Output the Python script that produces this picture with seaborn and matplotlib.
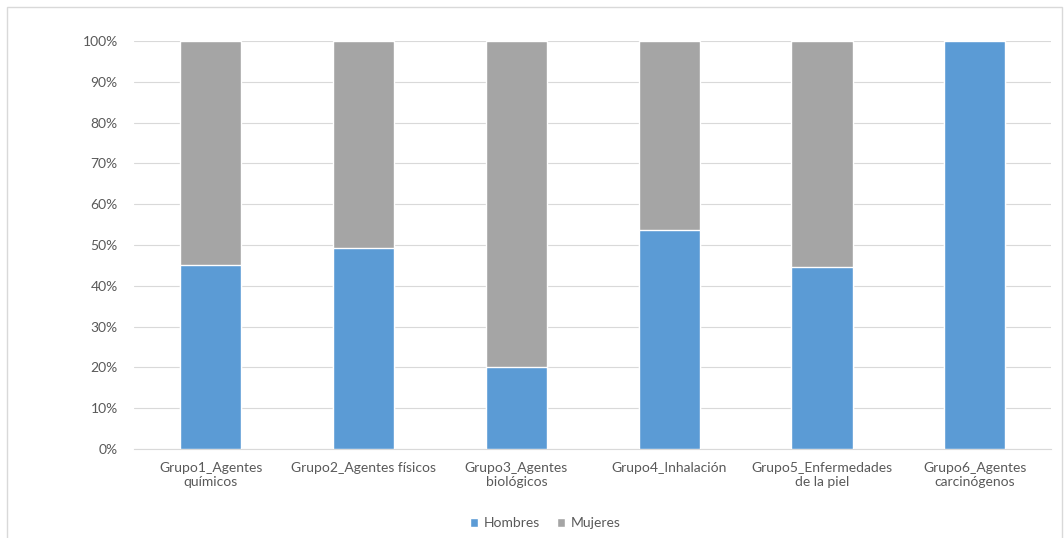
import matplotlib
matplotlib.use("Agg")
import matplotlib.pyplot as plt
import matplotlib.ticker as mticker
from matplotlib.patches import Rectangle
import pandas as pd
import seaborn as sns

#%% Data

grupos = ['Grupo1_Agentes\nquímicos', 'Grupo2_Agentes físicos', 'Grupo3_Agentes\nbiológicos',
          'Grupo4_Inhalación', 'Grupo5_Enfermedades\nde la piel', 'Grupo6_Agentes\ncarcinógenos']
hombres = [45.1, 49.3, 20.2, 53.7, 44.7, 100.0]
mujeres = [54.9, 50.7, 79.8, 46.3, 55.3, 0.0]

df = pd.DataFrame({'grupo': grupos, 'Hombres': hombres, 'Mujeres': mujeres})
df['total'] = df['Hombres'] + df['Mujeres']

#%% Plot

sns.set_style("white")
plt.rcParams['font.family'] = ['Lato', 'DejaVu Sans']
txt = '#595959'

fig = plt.figure(figsize=(10.64, 5.38), dpi=100)
ax = fig.add_axes([0.1264, 0.1654, 0.8616, 0.7584])

# stacked: total bar in grey, Hombres drawn over it
sns.barplot(data=df, x='grupo', y='total', color='#A5A5A5', width=0.4,
            saturation=1, ax=ax, label='Mujeres', zorder=2)
sns.barplot(data=df, x='grupo', y='Hombres', color='#5B9BD5', width=0.4,
            saturation=1, ax=ax, label='Hombres', zorder=3)

ax.set_ylim(0, 100)
ax.set_xlim(-0.5, len(grupos) - 0.5)
ax.set_yticks(range(0, 101, 10))
ax.yaxis.set_major_formatter(mticker.FuncFormatter(lambda v, p: f'{v:.0f}%'))
ax.grid(axis='y', color='#D9D9D9', linewidth=0.8, zorder=0)
ax.set_axisbelow(True)
for s in ['top', 'right', 'left']:
    ax.spines[s].set_visible(False)
ax.spines['bottom'].set_color('#D9D9D9')
ax.tick_params(axis='both', length=0, labelsize=10, colors=txt)
ax.tick_params(axis='y', pad=12)
ax.tick_params(axis='x', pad=9)
for lab in ax.get_xticklabels():
    lab.set_linespacing(1.2)
ax.set_xlabel('')
ax.set_ylabel('')

# legend at the bottom, Hombres first
h, l = ax.get_legend_handles_labels()
order = [l.index('Hombres'), l.index('Mujeres')]
fig.legend([h[i] for i in order], [l[i] for i in order], loc='center',
           bbox_to_anchor=(545 / 1064, 1 - 523 / 538), ncol=2, frameon=False,
           fontsize=10, labelcolor=txt, handlelength=0.6, handleheight=0.6,
           handletextpad=0.4, columnspacing=1.2)
if ax.get_legend():
    ax.get_legend().remove()

# chart border
fig.patches.append(Rectangle((7 / 1064, -0.01), 1 - 9 / 1064, 1 - 7 / 538 + 0.01,
                             transform=fig.transFigure, fill=False,
                             edgecolor='#D9D9D9', linewidth=1))

fig.savefig('out.png', dpi=100)
